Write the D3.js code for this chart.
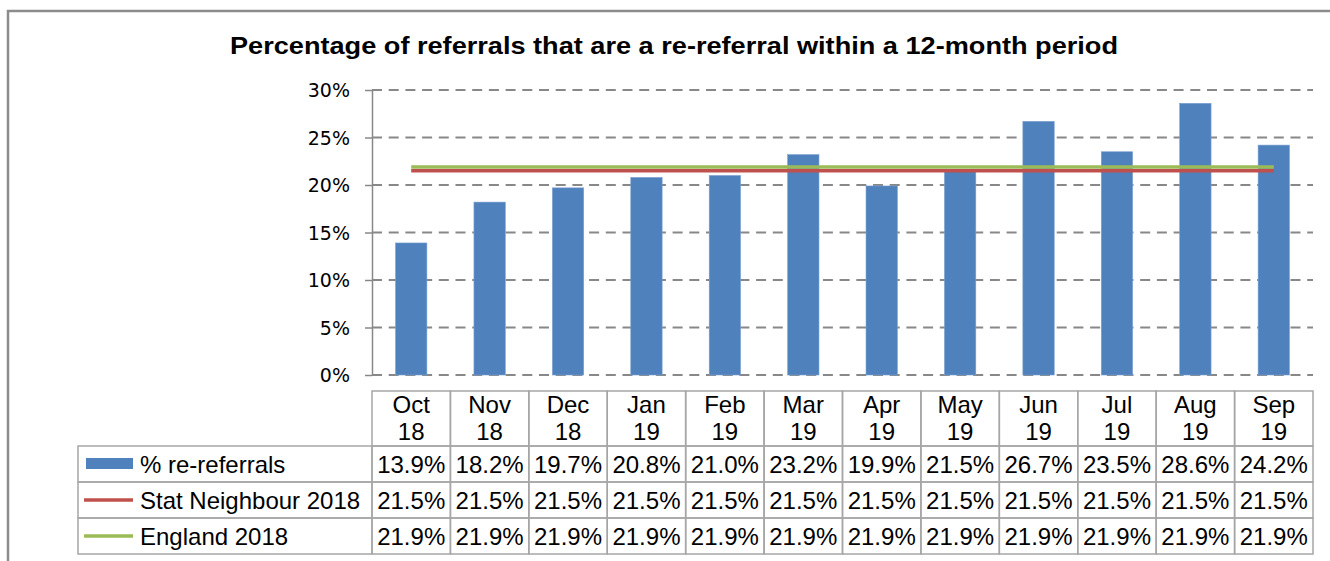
<!DOCTYPE html>
<html>
<head>
<meta charset="utf-8">
<script src="https://cdn.jsdelivr.net/npm/d3@7"></script>
<style>
  body { margin: 0; background: #fff; }
  svg text { font-family: Arial, "Liberation Sans", sans-serif; fill: #000; }
  .ylab { font-family: Verdana, "DejaVu Sans", sans-serif !important; font-size: 19px; }
</style>
</head>
<body>
<div id="chart"></div>
<script>
// chart data
let months = ['Oct 18', 'Nov 18', 'Dec 18', 'Jan 19', 'Feb 19', 'Mar 19',
              'Apr 19', 'May 19', 'Jun 19', 'Jul 19', 'Aug 19', 'Sep 19'];
let reReferrals   = [13.9, 18.2, 19.7, 20.8, 21.0, 23.2, 19.9, 21.5, 26.7, 23.5, 28.6, 24.2];
let statNeighbour = [21.5, 21.5, 21.5, 21.5, 21.5, 21.5, 21.5, 21.5, 21.5, 21.5, 21.5, 21.5];
let england       = [21.9, 21.9, 21.9, 21.9, 21.9, 21.9, 21.9, 21.9, 21.9, 21.9, 21.9, 21.9];
let yTicks = [0, 5, 10, 15, 20, 25, 30];

let seriesNames = ['% re-referrals', 'Stat Neighbour 2018', 'England 2018'];
let seriesColors = ['#4F81BD', '#C0504D', '#9BBB59'];

let width = 1330;
let height = 561;
let plotLeft = 372, plotRight = 1313, plotTop = 90, plotBottom = 375;
let legendLeft = 78;

let svg = d3.select('#chart').append('svg')
    .attr('width', width)
    .attr('height', height);

// outer chart frame (runs off the right and bottom of the picture)
svg.append('rect')
    .attr('x', 8).attr('y', 11)
    .attr('width', 1340).attr('height', 570)
    .attr('fill', 'none')
    .attr('stroke', '#8c8c8c')
    .attr('stroke-width', 2.5);

// title is a bit wider than the font gives, so stretch it to the reference width
svg.append('text')
    .attr('x', 230).attr('y', 54)
    .attr('textLength', 888)
    .attr('lengthAdjust', 'spacingAndGlyphs')
    .style('font-size', '24px')
    .style('font-weight', 'bold')
    .text('Percentage of referrals that are a re-referral within a 12-month period');

let xScale = d3.scaleBand()
    .domain(months)
    .range([plotLeft, plotRight])
    .paddingInner(0.6)
    .paddingOuter(0.3);

let step = (plotRight - plotLeft) / months.length;
let xCenter = m => xScale(m) + xScale.bandwidth() / 2;

let yScale = d3.scaleLinear()
    .domain([0, 30])
    .range([plotBottom, plotTop]);

// dashed gridlines
svg.append('g').selectAll('line')
    .data(yTicks)
    .enter().append('line')
    .attr('x1', plotLeft).attr('x2', plotRight)
    .attr('y1', d => yScale(d)).attr('y2', d => yScale(d))
    .attr('stroke', '#888')
    .attr('stroke-width', 2)
    .attr('stroke-dasharray', '10,6.7');

// y axis
let yAxis = d3.axisLeft(yScale)
    .tickValues(yTicks)
    .tickFormat(d => d + '%')
    .tickSize(7)
    .tickSizeOuter(0)
    .tickPadding(15);

let yAxisG = svg.append('g')
    .attr('transform', 'translate(' + plotLeft + ',0)')
    .call(yAxis);
yAxisG.select('.domain').attr('stroke', '#888').attr('stroke-width', 1.5);
yAxisG.selectAll('.tick line').attr('stroke', '#888').attr('stroke-width', 1.5);
yAxisG.selectAll('.tick text')
    .classed('ylab', true)
    .attr('fill', '#222')
    .attr('dy', '0.36em');

// bars
svg.append('g').selectAll('rect')
    .data(reReferrals)
    .enter().append('rect')
    .attr('x', (d, i) => xScale(months[i]))
    .attr('y', d => yScale(d))
    .attr('width', xScale.bandwidth())
    .attr('height', d => yScale(0) - yScale(d))
    .attr('fill', seriesColors[0])
    .attr('stroke', '#7ea1d0')
    .attr('stroke-width', 0.6);

// benchmark lines
let line = d3.line()
    .x((d, i) => xCenter(months[i]))
    .y(d => yScale(d));

[statNeighbour, england].forEach(function(vals, k) {
    svg.append('path')
        .datum(vals)
        .attr('d', line)
        .attr('fill', 'none')
        .attr('stroke', seriesColors[k + 1])
        .attr('stroke-width', 3.4);
});

// data table under the chart
let tableTop = 391, headerH = 55, rowH = 36;
let gridColor = '#a6a6a6';
let tbl = svg.append('g');

// header cells
months.forEach(function(m, i) {
    let x0 = plotLeft + i * step;
    tbl.append('rect')
        .attr('x', x0).attr('y', tableTop)
        .attr('width', step).attr('height', headerH)
        .attr('fill', 'none').attr('stroke', gridColor).attr('stroke-width', 1.5);
    let parts = m.split(' ');
    tbl.append('text')
        .attr('x', x0 + step / 2).attr('y', tableTop + 22)
        .attr('text-anchor', 'middle')
        .style('font-size', '24px')
        .text(parts[0]);
    tbl.append('text')
        .attr('x', x0 + step / 2).attr('y', tableTop + 49)
        .attr('text-anchor', 'middle')
        .style('font-size', '24px')
        .text(parts[1]);
});

let rows = [reReferrals, statNeighbour, england];
rows.forEach(function(vals, r) {
    let y0 = tableTop + headerH + r * rowH;
    // legend cell
    tbl.append('rect')
        .attr('x', legendLeft).attr('y', y0)
        .attr('width', plotLeft - legendLeft).attr('height', rowH)
        .attr('fill', 'none').attr('stroke', gridColor).attr('stroke-width', 1.5);
    if (r === 0) {
        tbl.append('rect')
            .attr('x', 86).attr('y', y0 + 12)
            .attr('width', 47).attr('height', 11)
            .attr('fill', seriesColors[0]);
    } else {
        tbl.append('line')
            .attr('x1', 84).attr('x2', 133)
            .attr('y1', y0 + 18).attr('y2', y0 + 18)
            .attr('stroke', seriesColors[r])
            .attr('stroke-width', 3.4);
    }
    tbl.append('text')
        .attr('x', 140).attr('y', y0 + 27)
        .style('font-size', '24px')
        .text(seriesNames[r]);

    vals.forEach(function(v, i) {
        let x0 = plotLeft + i * step;
        tbl.append('rect')
            .attr('x', x0).attr('y', y0)
            .attr('width', step).attr('height', rowH)
            .attr('fill', 'none').attr('stroke', gridColor).attr('stroke-width', 1.5);
        tbl.append('text')
            .attr('x', x0 + step / 2).attr('y', y0 + 27)
            .attr('text-anchor', 'middle')
            .style('font-size', '24px')
            .text(v.toFixed(1) + '%');
    });
});
</script>
</body>
</html>
